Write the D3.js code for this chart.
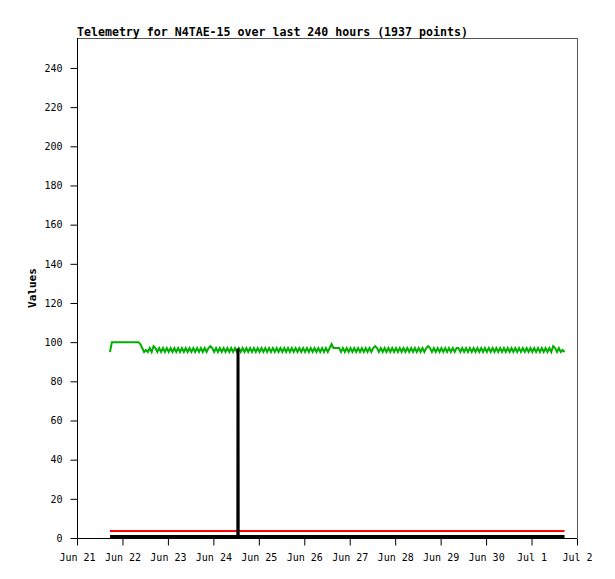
<!DOCTYPE html>
<html><head><meta charset="utf-8">
<script src="https://cdn.jsdelivr.net/npm/d3@7"></script>
<style>body{margin:0;background:#fff}svg{display:block}</style>
</head><body><svg id="c" width="615" height="579"></svg>
<script>
const title = "Telemetry for N4TAE-15 over last 240 hours (1937 points)";
const yLabel = "Values";
const yTicks = [0,20,40,60,80,100,120,140,160,180,200,220,240];
const xTickDates = ["2023-06-21","2023-06-22","2023-06-23","2023-06-24","2023-06-25","2023-06-26","2023-06-27","2023-06-28","2023-06-29","2023-06-30","2023-07-01","2023-07-02"];
const startTime = "2023-06-21T17:25:00";
// green series: hourly readings
const greenValues = [
95,100,100,100,100,100,100,100,100,100,100,100,100,100,100,100,99,97,95,96,95,97,95,98,
97,95,97,95,97,95,97,95,97,95,97,95,97,95,97,95,97,95,97,95,97,95,97,95,
97,95,97,95,97,98,97,95,97,95,97,95,97,95,97,95,97,95,97,95,97,95,97,95,
97,95,97,95,97,95,97,95,97,95,97,95,97,95,97,95,97,95,97,95,97,95,97,95,
97,95,97,95,97,95,97,95,97,95,97,95,97,95,97,95,97,95,97,95,97,99,97,97,
97,97,95,97,95,97,95,97,95,97,95,97,95,97,95,97,95,97,95,97,98,97,95,97,
95,97,95,97,95,97,95,97,95,97,95,97,95,97,95,97,95,97,95,97,95,97,95,97,
98,97,95,97,95,97,95,97,95,97,95,97,95,97,95,97,97,95,97,95,97,95,97,95,
97,95,97,95,97,95,97,95,97,95,97,95,97,95,97,95,97,95,97,95,97,95,97,95,
97,95,97,95,97,95,97,95,97,95,97,95,97,95,97,95,97,95,98,97,95,97,95,96,
95];
// black series: hours and values
const blackHours = [0, 67.5, 67.6, 67.7, 240];
const blackValues = [0, 0, 96, 0, 0];
// red series
const redHours = [0, 240];
const redValues = [3.6, 3.6];

const svg = d3.select("#c");
const L=77, R=577, T=38, B=538;
const parse = d3.timeParse("%Y-%m-%d");
const t0 = d3.timeParse("%Y-%m-%dT%H:%M:%S")(startTime);
const hr = h => new Date(t0.getTime() + h*3600000);
const x = d3.scaleTime().domain([parse(xTickDates[0]), parse(xTickDates[xTickDates.length-1])]).range([L,R]);
const y = d3.scaleLinear().domain([0,255.3]).range([B,T]);
const font = "'DejaVu Sans Mono', monospace";

// frame
svg.append("line").attr("x1",L).attr("x2",R).attr("y1",T+0.5).attr("y2",T+0.5).attr("stroke","#555");
svg.append("line").attr("x1",R+0.5).attr("x2",R+0.5).attr("y1",T).attr("y2",B).attr("stroke","#555");

const clip = svg.append("clipPath").attr("id","pc").append("rect").attr("x",L).attr("y",T).attr("width",R-L).attr("height",B-T+1);
const g = svg.append("g").attr("clip-path","url(#pc)");

const line = d3.line().x(d=>x(d[0])).y(d=>y(d[1])).curve(d3.curveLinear);
const red = redHours.map((h,i)=>[hr(h), redValues[i]]);
const green = greenValues.map((v,i)=>[hr(i), v]);
const black = blackHours.map((h,i)=>[hr(h), blackValues[i]]);
g.append("path").datum(red).attr("d",line).attr("fill","none").attr("stroke","#ff0000").attr("stroke-width",2);
g.append("path").datum(green).attr("d",line).attr("fill","none").attr("stroke","#00b000").attr("stroke-width",2);
g.append("path").datum(black).attr("d",line.y(d=>y(d[1])-1.5)).attr("fill","none").attr("stroke","#000").attr("stroke-width",3);

// axes
const xa = svg.append("g").attr("transform",`translate(0,${B+0.5})`)
  .call(d3.axisBottom(x).tickValues(xTickDates.map(parse)).tickFormat(d3.timeFormat("%b %-d")).tickSize(7).tickPadding(8));
const ya = svg.append("g").attr("transform",`translate(${L+0.5},0)`)
  .call(d3.axisLeft(y).tickValues(yTicks).tickSize(7).tickPadding(8));
[xa,ya].forEach(a=>{
  a.select(".domain").attr("stroke","#000").attr("d", a===xa ? `M${L},0H${R}` : `M0,${B}V${T}`);
  a.selectAll(".tick line").attr("stroke","#000");
  a.selectAll("text").attr("font-family",font).attr("font-size",10).attr("fill","#000");
});

svg.append("text").attr("x",L).attr("y",35.5).attr("font-family",font).attr("font-weight","bold").attr("font-size",11.6).text(title);
svg.append("text").attr("transform",`translate(36,${(T+B)/2}) rotate(-90)`).attr("text-anchor","middle")
  .attr("font-family",font).attr("font-weight","bold").attr("font-size",11).text(yLabel);
</script></body></html>
